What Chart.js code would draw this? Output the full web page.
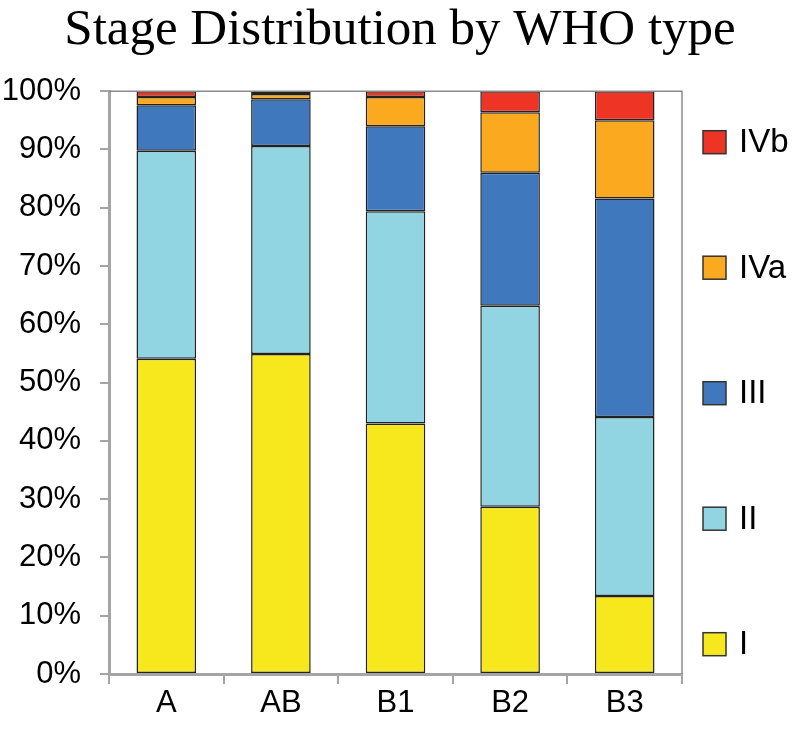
<!DOCTYPE html>
<html>
<head>
<meta charset="utf-8">
<script src="https://cdn.jsdelivr.net/npm/chart.js@4/dist/chart.umd.min.js"></script>
<style>
  body { margin: 0; background: #fff; }
  #wrap { width: 800px; height: 734px; }
</style>
</head>
<body>
<div id="wrap"><canvas id="stageChart"></canvas></div>
<script>
var whoTypes = ['A', 'AB', 'B1', 'B2', 'B3'];
var stageNames = ['I', 'II', 'III', 'IVa', 'IVb'];
// percent of cases in each stage, per WHO type
var stageI   = [54.1, 54.9, 43.0, 28.7, 13.4];
var stageII  = [35.7, 35.7, 36.4, 34.5, 30.7];
var stageIII = [7.8, 8.0, 14.6, 22.8, 37.5];
var stageIVa = [1.4, 0.9, 5.0, 10.4, 13.4];
var stageIVb = [1.0, 0.5, 1.0, 3.6, 5.0];
var yTicks = [0, 10, 20, 30, 40, 50, 60, 70, 80, 90, 100];

var stageColors = ['#F6E81C', '#92D5E2', '#3F78BD', '#FBAA1F', '#EE3424'];
var stageValues = [stageI, stageII, stageIII, stageIVa, stageIVb];

Chart.defaults.font.family = '"Liberation Sans", Arial, sans-serif';
Chart.defaults.color = '#000';

var datasets = stageNames.map(function (name, i) {
    return {
        label: name,
        data: stageValues[i],
        backgroundColor: stageColors[i],
        borderColor: '#222',
        borderWidth: 1.5,
        borderSkipped: false,
        categoryPercentage: 1,
        barPercentage: 0.52
    };
});

// thin frame on top and right of the plot
var frameLines = {
    id: 'frameLines',
    afterDatasetsDraw: function (chart) {
        var a = chart.chartArea, c = chart.ctx;
        c.save();
        c.strokeStyle = '#8a8a8a';
        c.lineWidth = 1.5;
        c.beginPath();
        c.moveTo(a.left, a.top);
        c.lineTo(a.right, a.top);
        c.lineTo(a.right, a.bottom);
        c.stroke();
        c.restore();
    }
};

// legend spread down the right side, top item = last stage
var sideLegend = {
    id: 'sideLegend',
    afterDraw: function (chart) {
        var a = chart.chartArea, c = chart.ctx;
        var sets = chart.data.datasets;
        c.save();
        c.font = '33px "Liberation Sans", Arial, sans-serif';
        c.textBaseline = 'middle';
        for (var k = 0; k < sets.length; k++) {
            var ds = sets[sets.length - 1 - k];
            var y = a.top + 51 + k * 125.5;
            c.fillStyle = ds.backgroundColor;
            c.fillRect(a.right + 21, y - 11.5, 23, 23);
            c.strokeStyle = '#333';
            c.lineWidth = 1.5;
            c.strokeRect(a.right + 21, y - 11.5, 23, 23);
            c.fillStyle = '#000';
            c.fillText(ds.label, a.right + 57, y + 1);
        }
        c.restore();
    }
};

var stageChart = new Chart(document.getElementById('stageChart').getContext('2d'), {
    type: 'bar',
    data: { labels: whoTypes, datasets: datasets },
    options: {
        responsive: true,
        maintainAspectRatio: false,
        animation: false,
        layout: { padding: 0 },
        plugins: {
            legend: { display: false },
            tooltip: { enabled: false },
            title: {
                display: true,
                text: 'Stage Distribution by WHO type',
                color: '#000',
                font: { family: '"Liberation Serif", "Times New Roman", serif', size: 51, weight: 'normal', lineHeight: 1.2 },
                padding: { top: 0, bottom: 30 }
            }
        },
        scales: {
            x: {
                stacked: true,
                grid: { display: true, drawOnChartArea: false, offset: true, tickLength: 10, color: '#a5a5a5', lineWidth: 2 },
                border: { color: '#a5a5a5', width: 3 },
                ticks: { font: { size: 31 }, padding: 1, color: '#000' },
                afterFit: function (s) { s.height = 60; }
            },
            y: {
                stacked: true,
                min: 0,
                max: 100,
                grid: { display: true, drawOnChartArea: false, tickLength: 9, color: '#a5a5a5', lineWidth: 2 },
                border: { color: '#a5a5a5', width: 3 },
                afterBuildTicks: function (s) {
                    s.ticks = yTicks.map(function (v) { return { value: v }; });
                },
                ticks: {
                    font: { size: 31 },
                    padding: 19,
                    color: '#000',
                    callback: function (v) { return v + '%'; }
                },
                afterFit: function (s) { s.width = 109; }
            },
            // empty scale that only keeps room for the legend on the right
            legendRoom: {
                type: 'linear',
                position: 'right',
                display: true,
                grid: { display: false },
                border: { display: false },
                ticks: { display: false },
                afterFit: function (s) { s.width = 118; }
            }
        }
    },
    plugins: [frameLines, sideLegend]
});
</script>
</body>
</html>
